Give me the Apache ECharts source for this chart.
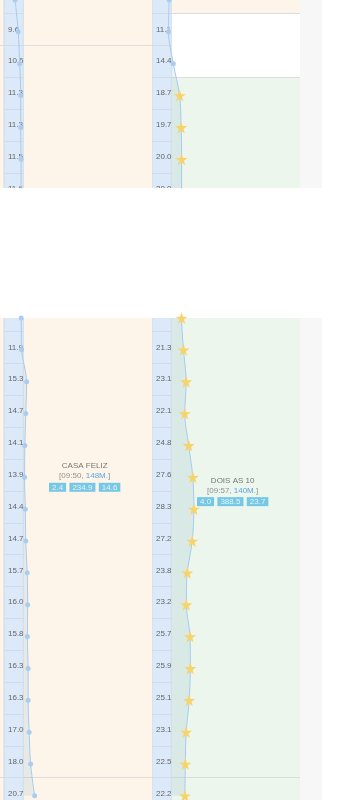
<!DOCTYPE html>
<html><head><meta charset="utf-8">
<script src="https://cdn.jsdelivr.net/npm/echarts@6/dist/echarts.min.js"></script>
<style>html,body{margin:0;padding:0;background:#fff}#c{width:343px;height:800px}</style>
</head><body><div id="c"></div>
<script>
// ---- data ----
const rows = [0,1,2,3,4,5,6,7,8,9,10,11,12,13,14,15,16,17,18,19,20,21];
const leftValues  = [7.5, 9.6, 10.6, 11.3, 11.3, 11.5, 11.6, 11.9, 15.3, 14.7, 14.1, 13.9, 14.4, 14.7, 15.7, 16.0, 15.8, 16.3, 16.3, 17.0, 18.0, 20.7];
const rightValues = [11.6, 11.1, 14.4, 18.7, 19.7, 20.0, 20.0, 21.3, 23.1, 22.1, 24.8, 27.6, 28.3, 27.2, 23.8, 23.2, 25.7, 25.9, 25.1, 23.1, 22.5, 22.2];
const leftProgramStarts  = [-1, 1.5, 20.5];
const leftProgramEnds    = [1.5, 20.5, 22];
const rightProgramStarts = [-1, 0.5, 2.5, 20.5];
const rightProgramEnds   = [0.5, 2.5, 20.5, 22];
const programNames   = ['CASA FELIZ', 'DOIS AS 10'];
const programTimes   = ['09:50', '09:57'];
const programMinutes = ['148M.', '140M.'];
const programStatsA  = ['2.4', '4.0'];
const programStatsB  = ['234.9', '388.5'];
const programStatsC  = ['14.6', '23.7'];
const programLabelRow = [11, 11.45];
const programLabelX   = [54.5, 54.5];

// ---- helpers / styles ----
const MIN = 60000;
const T0 = Date.UTC(2024, 0, 1, 9, 40);
const t = r => T0 + r * MIN;
const SHIFT = -2.5;
const STRIP = 13;
const FONT = 'Liberation Sans, Arial, sans-serif';
const leftColors  = ['#fdf5ea', '#fdf5ea', '#fdf5ea'];
const rightColors = ['#fdf5ea', '#ffffff', '#edf6ec', '#edf6ec'];
const STAR = 'path://M50 0 L61.8 35.1 L98.1 35.1 L68.8 56.7 L79.4 91 L50 70 L20.6 91 L31.2 56.7 L1.9 35.1 L38.2 35.1 Z';

const gridsDef = [
  {left: 0,   top: 0,   width: 152, height: 188},
  {left: 152, top: 0,   width: 148, height: 188},
  {left: 0,   top: 318, width: 152, height: 482},
  {left: 152, top: 318, width: 148, height: 482}
];
const sides = ['L', 'R', 'L', 'R'];
const yRanges = [[0, 5.9], [0, 5.9], [6, 21.13], [6, 21.13]];

const grid = [], xAxis = [], yAxis = [], series = [];
gridsDef.forEach((g, i) => {
  const L = sides[i] === 'L';
  const vals = L ? leftValues : rightValues;
  const starts = L ? leftProgramStarts : rightProgramStarts;
  const ends = L ? leftProgramEnds : rightProgramEnds;
  const colors = L ? leftColors : rightColors;
  grid.push(Object.assign({show: false, containLabel: false}, g));
  xAxis.push({gridIndex: i, type: 'value', min: L ? -2.7 : 0, max: 100, show: false});
  yAxis.push({gridIndex: i, type: 'time', inverse: true, min: t(yRanges[i][0]), max: t(yRanges[i][1]), show: false});

  // program backgrounds
  series.push({
    type: 'custom', xAxisIndex: i, yAxisIndex: i, z: 0, clip: true, silent: true,
    data: starts.map((s, k) => [k, t(s), t(ends[k])]),
    renderItem(params, api) {
      const cs = params.coordSys;
      const k = api.value(0);
      const y0 = api.coord([0, api.value(1)])[1] + SHIFT;
      const y1 = api.coord([0, api.value(2)])[1] + SHIFT;
      const yl = Math.round(y0) + 0.5;
      return {type: 'group', children: [
        {type: 'rect', shape: {x: cs.x, y: Math.min(y0, y1), width: cs.width, height: Math.abs(y1 - y0)}, style: {fill: colors[k]}},
        {type: 'line', shape: {x1: cs.x, y1: yl, x2: cs.x + cs.width, y2: yl}, style: {stroke: '#dddddd', lineWidth: 1}}
      ]};
    }
  });

  // area under the line
  series.push({
    type: 'line', xAxisIndex: i, yAxisIndex: i, z: 1, silent: true,
    data: vals.map((v, r) => [v, t(r)]),
    symbol: 'none', smooth: 0.3,
    lineStyle: {width: 0, opacity: 0},
    areaStyle: {color: 'rgba(100,160,200,0.2)'}
  });

  // value strip
  series.push({
    type: 'custom', xAxisIndex: i, yAxisIndex: i, z: 2, clip: true, silent: true,
    data: rows.map(r => [r, t(r)]),
    renderItem(params, api) {
      const r = api.value(0);
      const yt = api.coord([0, t(r - 0.5)])[1] + SHIFT;
      const yb = api.coord([0, t(r + 0.5)])[1] + SHIFT;
      const x0 = api.coord([0, t(r)])[0];
      const x1 = api.coord([STRIP, t(r)])[0];
      return {type: 'group', children: [
        {type: 'rect', shape: {x: x0, y: Math.round(yt) + 0.5, width: x1 - x0, height: Math.round(yb) - Math.round(yt)},
          style: {fill: '#dce9f9', stroke: '#d2dbe6', lineWidth: 1}},
        {type: 'text', x: x0 + 4, y: (yt + yb) / 2,
          style: {text: vals[r].toFixed(1), fill: '#666', font: '8px ' + FONT, verticalAlign: 'middle', align: 'left'}}
      ]};
    }
  });

  // line with symbols
  series.push({
    type: 'line', xAxisIndex: i, yAxisIndex: i, z: 3, silent: true, smooth: 0.3,
    lineStyle: {color: '#a6cbef', width: 1},
    data: vals.map((v, r) => {
      const star = !L && r >= 3;
      return {
        value: [v, t(r)],
        symbol: star ? STAR : 'circle',
        symbolSize: star ? 12 : 5,
        itemStyle: {color: star ? '#f6d46b' : '#a9cdf1'}
      };
    })
  });

  // program label
  if (i >= 2) {
    const k = L ? 0 : 1;
    series.push({
      type: 'scatter', xAxisIndex: i, yAxisIndex: i, z: 5, silent: true,
      symbolSize: 1, itemStyle: {color: 'rgba(0,0,0,0)'},
      data: [[programLabelX[k], t(programLabelRow[k])]],
      label: {
        show: true, position: 'inside',
        formatter: '{t|' + programNames[k] + '}\n{g|[' + programTimes[k] + ', }{b|' + programMinutes[k] + '}{g|]}\n' +
          '{box|' + programStatsA[k] + '} {box|' + programStatsB[k] + '} {box|' + programStatsC[k] + '}',
        rich: {
          t: {fontSize: 8, color: '#555', fontFamily: FONT, lineHeight: 10},
          g: {fontSize: 8, color: '#777', fontFamily: FONT, lineHeight: 10},
          b: {fontSize: 8, color: '#3a8ee0', fontFamily: FONT, lineHeight: 10},
          box: {fontSize: 8, color: '#fff', fontFamily: FONT, backgroundColor: '#56bde3', padding: [1, 3, 0, 3], lineHeight: 9}
        }
      }
    });
  }
});

const chart = echarts.init(document.getElementById('c'), null, {renderer: 'canvas'});
chart.setOption({
  animation: false,
  backgroundColor: '#fff',
  grid, xAxis, yAxis, series,
  graphic: [
    {type: 'rect', z: -10, shape: {x: 300, y: 0, width: 22, height: 188}, style: {fill: '#f7f7f7'}},
    {type: 'rect', z: -10, shape: {x: 300, y: 318, width: 22, height: 482}, style: {fill: '#f7f7f7'}}
  ]
});
</script>
</body></html>
